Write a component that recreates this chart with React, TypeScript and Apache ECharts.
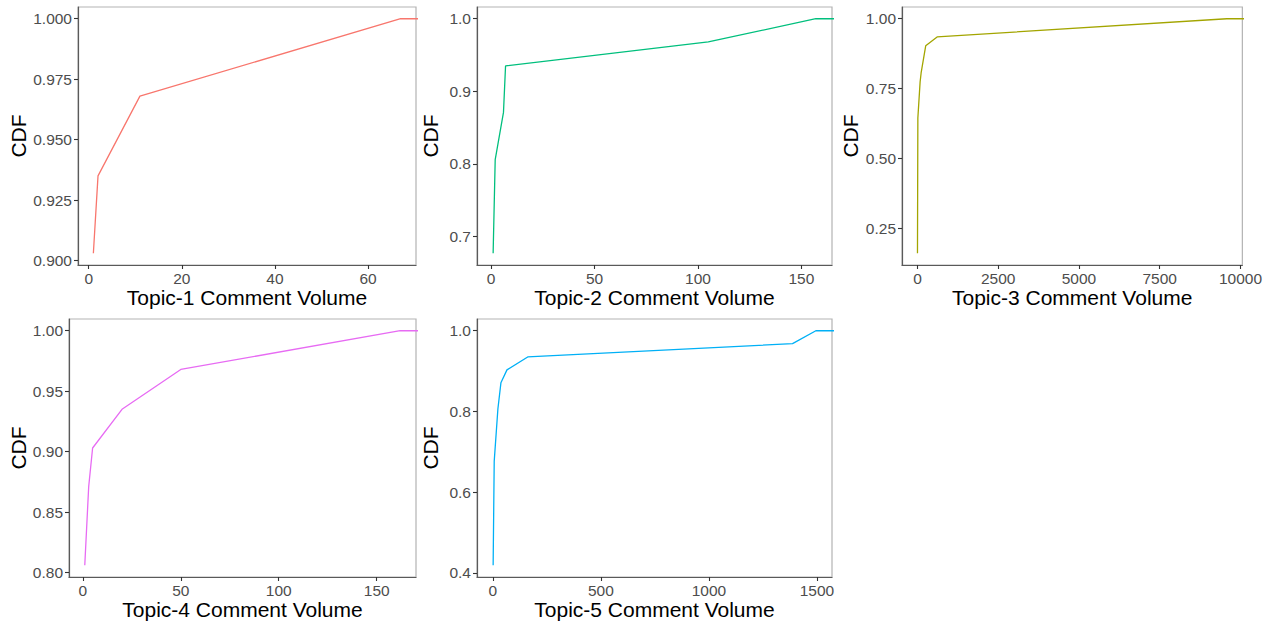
import React, { useEffect, useRef } from "react";
import * as echarts from "echarts";

// Data (CDF of comment volume per topic)
const TAIL = 1e6; // ECDF continues flat to +Inf

const topic1X = [1, 2, 11, 67];
const topic1Y = [0.903, 0.935, 0.968, 1.0];
const topic2X = [1, 2, 6, 7, 105, 157];
const topic2Y = [0.677, 0.806, 0.871, 0.935, 0.968, 1.0];
const topic3X = [0, 12, 82, 113, 255, 608, 9580];
const topic3Y = [0.161, 0.645, 0.774, 0.806, 0.903, 0.935, 1.0];
const topic4X = [1, 3, 5, 20, 50, 162];
const topic4Y = [0.806, 0.871, 0.903, 0.935, 0.968, 1.0];
const topic5X = [1, 6, 23, 37, 65, 161, 1387, 1495];
const topic5Y = [0.419, 0.677, 0.806, 0.871, 0.903, 0.935, 0.968, 1.0];

const titles = [
  "Topic-1 Comment Volume",
  "Topic-2 Comment Volume",
  "Topic-3 Comment Volume",
  "Topic-4 Comment Volume",
  "Topic-5 Comment Volume",
];
const colors = ["#F8766D", "#00BF7D", "#A3A500", "#E76BF3", "#00B0F6"];

const xTicks = [
  [0, 20, 40, 60],
  [0, 50, 100, 150],
  [0, 2500, 5000, 7500, 10000],
  [0, 50, 100, 150],
  [0, 500, 1000, 1500],
];
const yTicks = [
  [0.9, 0.925, 0.95, 0.975, 1.0],
  [0.7, 0.8, 0.9, 1.0],
  [0.25, 0.5, 0.75, 1.0],
  [0.8, 0.85, 0.9, 0.95, 1.0],
  [0.4, 0.6, 0.8, 1.0],
];
const yDecimals = [3, 1, 2, 2, 1];

const xs = [topic1X, topic2X, topic3X, topic4X, topic5X];
const ys = [topic1Y, topic2Y, topic3Y, topic4Y, topic5Y];

const grids = [
  { left: 78, top: 7, width: 338, height: 258 },
  { left: 477, top: 7, width: 355, height: 258 },
  { left: 902, top: 7, width: 346, height: 258 },
  { left: 69, top: 319, width: 347, height: 258 },
  { left: 477, top: 319, width: 355, height: 258 },
];
const yNameGaps = [47, 36, 41, 38, 36];

const FONT = "'Liberation Sans', Arial, Helvetica, sans-serif";

function expand(arr: number[]): [number, number] {
  const mn = Math.min(...arr);
  const mx = Math.max(...arr);
  const d = (mx - mn) * 0.05;
  return [mn - d, mx + d];
}

export default function App() {
  const ref = useRef<HTMLDivElement>(null);

  useEffect(() => {
    if (!ref.current) return;
    const chart = echarts.init(ref.current, null, { renderer: "svg" });

    const gridOpts = grids.map((g) => ({
      ...g,
      show: true,
      borderColor: "#b3b3b3",
      borderWidth: 1.2,
      backgroundColor: "#ffffff",
      containLabel: false,
    }));

    const xAxes = xs.map((x, i) => {
      const [mn, mx] = expand(x);
      return {
        type: "value",
        gridIndex: i,
        min: mn,
        max: mx,
        name: titles[i],
        nameLocation: "middle",
        nameGap: 19,
        nameTextStyle: { fontSize: 21, color: "#000", fontFamily: FONT, verticalAlign: "top" },
        axisLine: { show: true, onZero: false, lineStyle: { color: "#5a5a5a", width: 1.2 } },
        axisTick: { show: true, length: 4, customValues: xTicks[i], lineStyle: { color: "#333", width: 1.1 } },
        axisLabel: {
          show: true,
          customValues: xTicks[i],
          margin: 5,
          fontSize: 15.5,
          color: "#4d4d4d",
          fontFamily: FONT,
          formatter: (v: number) => String(Math.round(v)),
        },
        splitLine: { show: false },
      };
    });

    const yAxes = ys.map((y, i) => {
      const [mn, mx] = expand(y);
      return {
        type: "value",
        gridIndex: i,
        min: mn,
        max: mx,
        name: "CDF",
        nameLocation: "middle",
        nameGap: yNameGaps[i],
        nameTextStyle: { fontSize: 21, color: "#000", fontFamily: FONT },
        axisLine: { show: true, onZero: false, lineStyle: { color: "#5a5a5a", width: 1.2 } },
        axisTick: { show: true, length: 4, customValues: yTicks[i], lineStyle: { color: "#333", width: 1.1 } },
        axisLabel: {
          show: true,
          customValues: yTicks[i],
          margin: 6,
          fontSize: 15.5,
          color: "#4d4d4d",
          fontFamily: FONT,
          formatter: (v: number) => v.toFixed(yDecimals[i]),
        },
        splitLine: { show: false },
      };
    });

    const series = xs.map((x, i) => ({
      type: "line",
      xAxisIndex: i,
      yAxisIndex: i,
      data: [...x.map((v, k) => [v, ys[i][k]]), [TAIL, ys[i][ys[i].length - 1]]],
      showSymbol: false,
      symbol: "none",
      clip: true,
      lineStyle: { color: colors[i], width: 1.3 },
      emphasis: { disabled: true },
    }));

    chart.setOption({
      animation: false,
      backgroundColor: "#ffffff",
      textStyle: { fontFamily: FONT },
      grid: gridOpts,
      xAxis: xAxes,
      yAxis: yAxes,
      series,
    });

    return () => chart.dispose();
  }, []);

  return (
    <div
      ref={ref}
      style={{ position: "absolute", left: 0, top: 0, width: 1265, height: 626 }}
    />
  );
}
